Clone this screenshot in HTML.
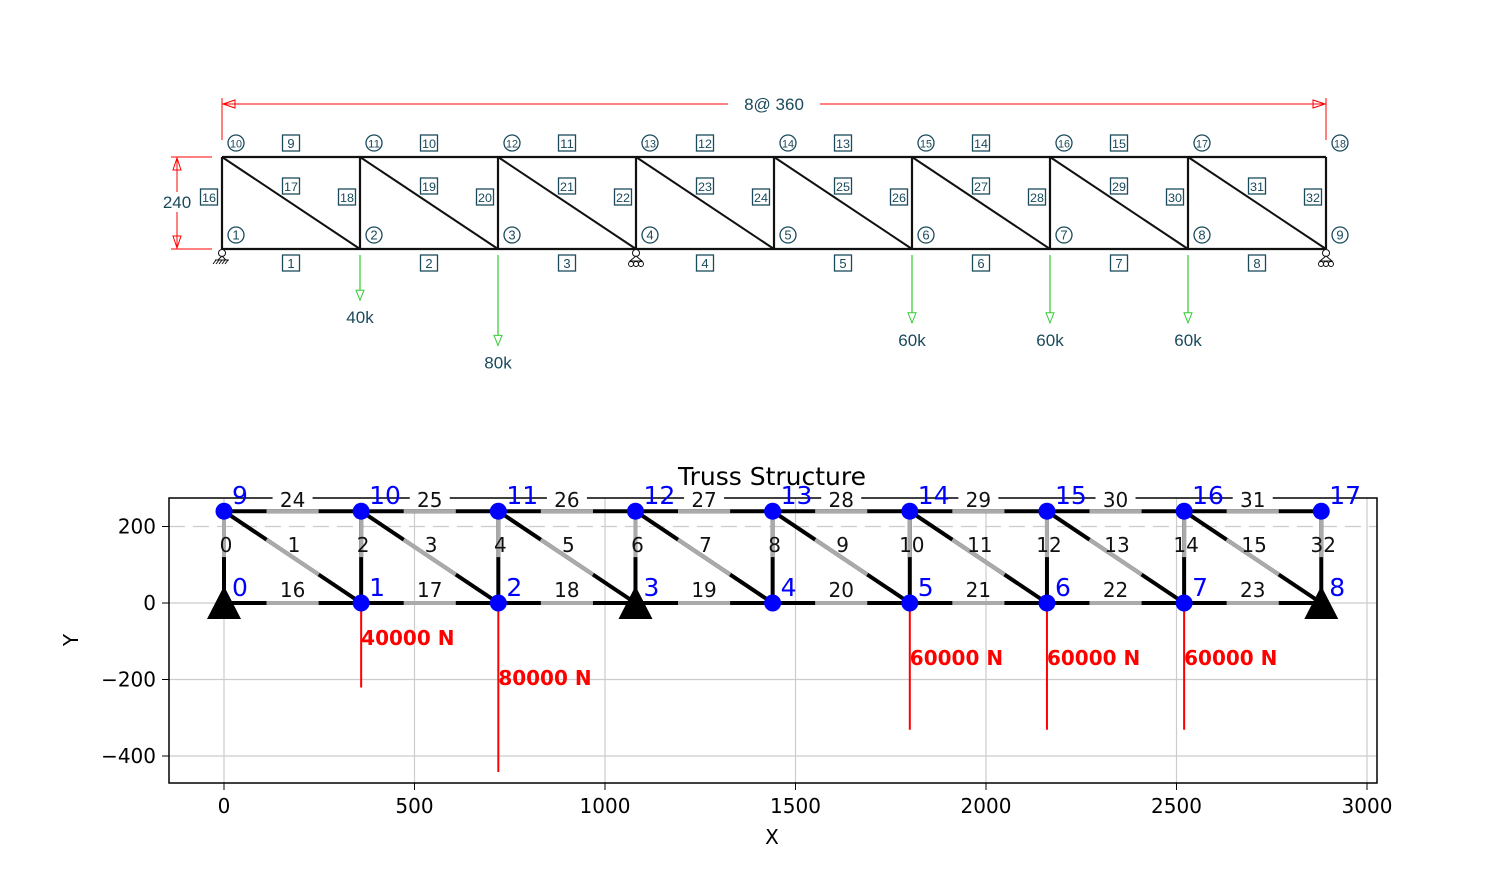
<!DOCTYPE html>
<html><head><meta charset="utf-8"><style>
body{margin:0;background:#fff}
svg{display:block;font-family:"DejaVu Sans","Liberation Sans",sans-serif}
</style></head><body>
<svg id="s" width="1500" height="894" viewBox="0 0 1500 894"></svg>
<script>
const nodeX=[0,360,720,1080,1440,1800,2160,2520,2880];
const height=240;
const loadNodes=[1,2,5,6,7];
const loadValues=[40000,80000,60000,60000,60000];
const loadLabelsTop=["40k","80k","60k","60k","60k"];
const supportNodes=[0,3,8];
const xTicks=[0,500,1000,1500,2000,2500,3000];
const yTicks=[200,0,-200,-400];

const S=document.getElementById('s');
const NS='http://www.w3.org/2000/svg';
function el(t,a,txt){const e=document.createElementNS(NS,t);for(const k in a)e.setAttribute(k,a[k]);if(txt!==undefined)e.textContent=txt;S.appendChild(e);return e;}

// ---------- top diagram ----------
const tx=v=>222+v*(1104/2880), ty=v=>249-v*(92/240);
const teal='#1a4a5c';
let e;
e=el('line',{x1:222,y1:104,x2:1326,y2:104,stroke:'#f00','stroke-width':1});

el('rect',{x:728,y:94,width:92,height:20,fill:'#fff'});
e=el('text',{x:774,y:110,'text-anchor':'middle','font-size':17,fill:teal,'font-family':'Liberation Sans'},'8@ 360');

el('line',{x1:222,y1:98,x2:222,y2:140,stroke:'#f00'});
el('line',{x1:1326,y1:98,x2:1326,y2:140,stroke:'#f00'});
el('path',{d:'M223,104 l12,-4 v8 z M1325,104 l-12,-4 v8 z',fill:'none',stroke:'#f00'});
el('line',{x1:171,y1:157,x2:212,y2:157,stroke:'#f00'});
el('line',{x1:171,y1:249,x2:212,y2:249,stroke:'#f00'});
el('line',{x1:177,y1:158,x2:177,y2:248,stroke:'#f00'});
el('rect',{x:160,y:192,width:34,height:20,fill:'#fff'});
el('path',{d:'M177,158 l-4,12 h8 z M177,248 l-4,-12 h8 z',fill:'none',stroke:'#f00'});
e=el('text',{x:177,y:208,'text-anchor':'middle','font-size':17,fill:teal,'font-family':'Liberation Sans'},'240');

const N=nodeX.length;
e=el('line',{x1:tx(0),y1:ty(0),x2:tx(2880),y2:ty(0),stroke:'#111','stroke-width':2.2});

e=el('line',{x1:tx(0),y1:ty(height),x2:tx(2880),y2:ty(height),stroke:'#111','stroke-width':2.2});

function box(x,y,t){el('rect',{x:x-8.5,y:y-8,width:17,height:16,fill:'#fff',stroke:teal,'stroke-width':1.3});
 const a={x:x,y:y+5,'text-anchor':'middle','font-size':t.length>1?12:13,fill:teal,'font-family':'Liberation Sans'};
 if(t.length>1){a.textLength=14;a.lengthAdjust='spacingAndGlyphs';}
 const q=el('text',a,t);
 }
function circ(x,y,t){el('circle',{cx:x,cy:y,r:8,fill:'#fff',stroke:teal,'stroke-width':1.3});
 const a={x:x,y:y+4.5,'text-anchor':'middle','font-size':t.length>1?11:13,fill:teal,'font-family':'Liberation Sans'};
 if(t.length>1){a.textLength=12;a.lengthAdjust='spacingAndGlyphs';}
 const q=el('text',a,t);
 }
for(let i=0;i<N;i++){
  const x=tx(nodeX[i]);
  e=el('line',{x1:x,y1:ty(0),x2:x,y2:ty(height),stroke:'#111','stroke-width':2.2});
  
  if(i<N-1){
    const x2=tx(nodeX[i+1]);
    e=el('line',{x1:x,y1:ty(height),x2:x2,y2:ty(0),stroke:'#111','stroke-width':2});
    
    box((x+x2)/2,263,String(i+1));
    if(i<7) box((x+x2)/2,143,String(i+9));
    box(x+69,186,String(17+2*i));
  }
  box(x-13,197,String(16+2*i));
  circ(x+14,235,String(i+1));
  circ(x+14,143,String(i+10));
}
function pin(x,y,roller){el('circle',{cx:x,cy:y+4,r:3.5,fill:'#fff',stroke:'#111'});
 if(roller){for(let k=-1;k<=1;k++)el('circle',{cx:x+k*5,cy:y+15,r:2.5,fill:'#fff',stroke:'#111'});el('path',{d:`M${x},${y+7} L${x-6},${y+12} H${x+6} Z`,fill:'#fff',stroke:'#111'});}
 else{el('line',{x1:x-7,y1:y+11,x2:x+7,y2:y+11,stroke:'#111'});for(let k=-6;k<=6;k+=3)el('line',{x1:x+k,y1:y+11,x2:x+k-3,y2:y+15,stroke:'#111'});el('path',{d:`M${x},${y+7} L${x-4},${y+11} M${x},${y+7} L${x+4},${y+11}`,stroke:'#111'});}}
supportNodes.forEach((n,i)=>{pin(tx(nodeX[n]),ty(0),i>0);});
loadNodes.forEach((n,i)=>{const x=tx(nodeX[n]);const L=loadValues[i]*0.00113;
  e=el('line',{x1:x,y1:255,x2:x,y2:255+L,stroke:'#3c3','stroke-width':1.2});
  
  el('path',{d:`M${x},${255+L} l-4,-10 h8 z`,fill:'#fff',stroke:'#3c3'});
  e=el('text',{x:x,y:255+L+23,'text-anchor':'middle','font-size':17,fill:teal,'font-family':'Liberation Sans'},loadLabelsTop[i]);
  
});

// ---------- bottom chart ----------
const X0=224,XS=(1367-224)/3000,Y0=603,YS=(756-603)/400;
const px=v=>X0+v*XS, py=v=>Y0-v*YS;
xTicks.forEach(t=>{if(px(t)<1376){e=el('line',{x1:px(t),y1:498,x2:px(t),y2:783,stroke:'#ccc','stroke-width':1.2});}});
yTicks.forEach(t=>{e=el('line',{x1:169,y1:py(t),x2:1377,y2:py(t),stroke:'#ccc','stroke-width':1.2,'stroke-dasharray':t===200?'16,8':''});});
e=el('rect',{x:169,y:498,width:1208,height:285,fill:'none',stroke:'#000','stroke-width':1.5});

xTicks.forEach(t=>{el('line',{x1:px(t),y1:783,x2:px(t),y2:790,stroke:'#000'});
 e=el('text',{x:px(t),y:813,'text-anchor':'middle','font-size':20},String(t));});
yTicks.forEach(t=>{el('line',{x1:162,y1:py(t),x2:169,y2:py(t),stroke:'#000'});
 e=el('text',{x:156,y:py(t)+7,'text-anchor':'end','font-size':20},(t<0?'\u2212':'')+Math.abs(t));});
e=el('text',{x:772,y:844,'text-anchor':'middle','font-size':20},'X');
e=el('text',{x:78,y:640,'text-anchor':'middle','font-size':20,transform:'rotate(-90 78 640)'},'Y');
e=el('text',{x:772,y:485,'text-anchor':'middle','font-size':25},'Truss Structure');
function member(a,b,lbl,lx,ly,vert){
  const [x1,y1]=a,[x2,y2]=b;
  const P=(t)=>[x1+(x2-x1)*t,y1+(y2-y1)*t];
  let m=el('line',{x1:px(x1),y1:py(y1),x2:px(x2),y2:py(y2),stroke:'#000','stroke-width':4});
  
  const g0=vert?P(0.5):P(0.31), g1=vert?P(1):P(0.69);
  el('line',{x1:px(g0[0]),y1:py(g0[1]),x2:px(g1[0]),y2:py(g1[1]),stroke:'#aaa','stroke-width':4});
  const t=el('text',{x:lx,y:ly,'text-anchor':'middle','font-size':20,fill:'#111'},String(lbl));
  
}
for(let i=0;i<N;i++){
  const x=nodeX[i];
  member([x,0],[x,height],i<N-1?2*i:32,px(x)+2,552,true);
  if(i<N-1){
    const x2=nodeX[i+1];
    member([x,height],[x2,0],2*i+1,px(x)+70,552,false);
    member([x,0],[x2,0],16+i,px((x+x2)/2),597,false);
    el('rect',{x:px((x+x2)/2)-20,y:486,width:40,height:24,fill:'#fff'});
    member([x,height],[x2,height],24+i,px((x+x2)/2),507,false);
  }
}
loadNodes.forEach((n,i)=>{const x=px(nodeX[n]);
  e=el('line',{x1:x,y1:Y0,x2:x,y2:py(-loadValues[i]/181),stroke:'#f00','stroke-width':2});
  
  e=el('text',{x:x,y:Y0+2+loadValues[i]/1000,'font-size':20,'font-weight':'bold',fill:'#f00'},loadValues[i]+' N');
  
});
supportNodes.forEach(n=>{const x=px(nodeX[n]);
  e=el('path',{d:`M${x},${Y0-17} L${x-17},${Y0+16} H${x+17} Z`,fill:'#000'});
  });
for(let i=0;i<N;i++){[[0,i],[height,i+N]].forEach(([y,id])=>{
  if(y===0&&supportNodes.includes(i)){}else{
  e=el('circle',{cx:px(nodeX[i]),cy:py(y),r:8.5,fill:'#00f'});
  }
  e=el('text',{x:px(nodeX[i])+8,y:py(y)-7,'font-size':25,fill:'#00f'},String(id));
  
});}
</script>
</body></html>
